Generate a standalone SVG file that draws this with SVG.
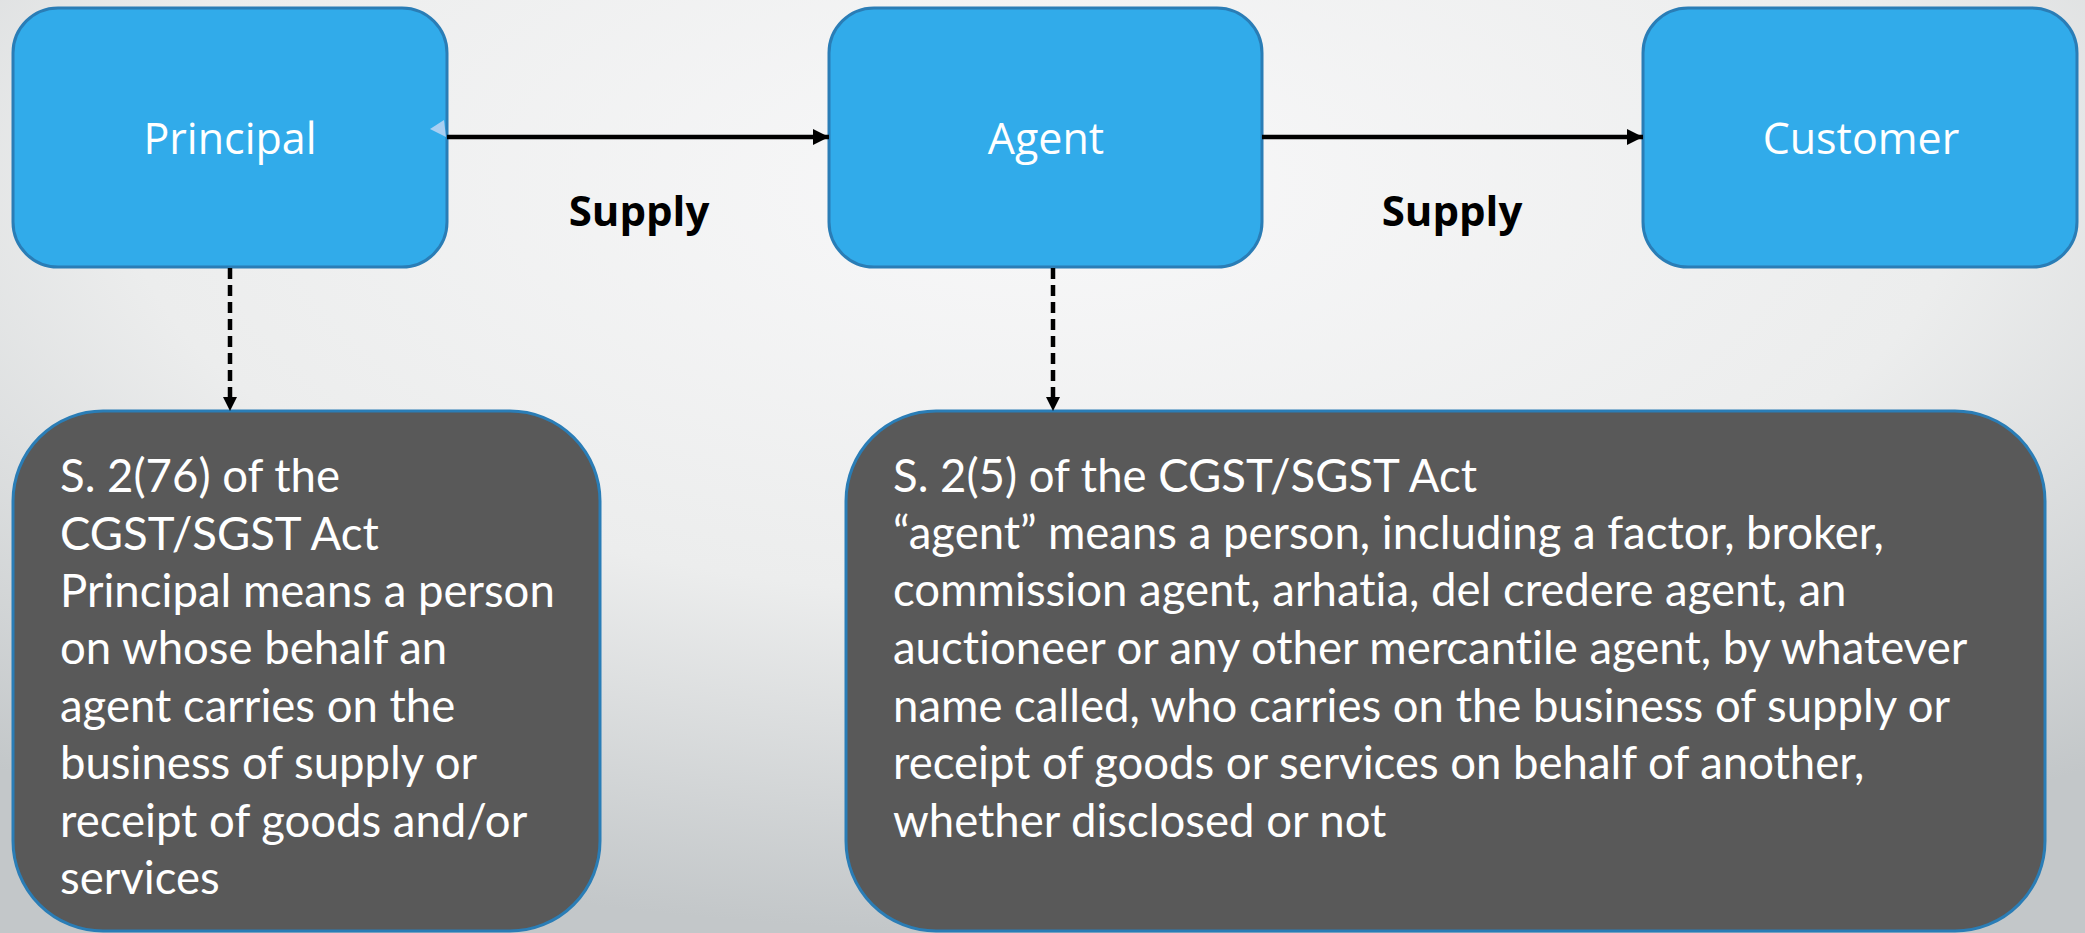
<svg xmlns="http://www.w3.org/2000/svg" width="2085" height="933" viewBox="0 0 2085 933">
  <defs>
    <radialGradient id="bg" cx="50%" cy="20%" r="80%" fx="50%" fy="20%">
      <stop offset="0" stop-color="#f8f8f9"/>
      <stop offset="0.55" stop-color="#eceded"/>
      <stop offset="1" stop-color="#c3c7c9"/>
    </radialGradient>
    <marker id="arrow" viewBox="0 0 16 16" refX="16" refY="8" markerWidth="16" markerHeight="16" markerUnits="userSpaceOnUse" orient="auto">
      <path d="M0,0 L16,8 L0,16 Z" fill="#000"/>
    </marker>
  </defs>
  <style>
    .party { fill: #31abea; stroke: #2a7db6; stroke-width: 3; }
    .party-label { font-family: "Open Sans", "Noto Sans", sans-serif; font-size: 43px; fill: #ffffff; text-anchor: middle; }
    .definition { fill: #595959; stroke: #2a7db6; stroke-width: 3; }
    .definition-text { font-family: Lato, "Open Sans", sans-serif; font-size: 45.5px; fill: #ffffff; font-variant-ligatures: none; font-feature-settings: "liga" 0, "clig" 0; }
    .flow { stroke: #000; stroke-width: 4.5; fill: none; }
    .ref { stroke: #000; stroke-width: 4.5; fill: none; stroke-dasharray: 11 6; }
    .flow-label { font-family: "Open Sans", "Noto Sans", sans-serif; font-size: 42px; font-weight: 700; fill: #000; text-anchor: middle; }
  </style>

  <rect x="0" y="0" width="2085" height="933" fill="url(#bg)"/>

  <!-- parties in the supply chain -->
  <g id="principal">
    <rect class="party" x="13" y="8" width="434" height="259" rx="45" ry="45"/>
    <text class="party-label" x="230" y="154">Principal</text>
  </g>
  <g id="agent">
    <rect class="party" x="829" y="8" width="433" height="259" rx="45" ry="45"/>
    <text class="party-label" x="1046" y="154">Agent</text>
  </g>
  <g id="customer">
    <rect class="party" x="1643" y="8" width="434" height="259" rx="45" ry="45"/>
    <text class="party-label" x="1861" y="154">Customer</text>
  </g>

  <!-- statutory definitions -->
  <g id="principal-definition">
    <rect class="definition" x="13" y="411" width="587" height="520" rx="90" ry="90"/>
    <text class="definition-text">
      <tspan x="60" y="492">S. 2(76) of the</tspan>
      <tspan x="60" y="549.5">CGST/SGST Act</tspan>
      <tspan x="60" y="607">Principal means a person</tspan>
      <tspan x="60" y="664">on whose behalf an</tspan>
      <tspan x="60" y="721.5">agent carries on the</tspan>
      <tspan x="60" y="779">business of supply or</tspan>
      <tspan x="60" y="836.5">receipt of goods and/or</tspan>
      <tspan x="60" y="893.5">services</tspan>
    </text>
  </g>
  <g id="agent-definition">
    <rect class="definition" x="846" y="411" width="1199" height="520" rx="90" ry="90"/>
    <text class="definition-text">
      <tspan x="893" y="492">S. 2(5) of the CGST/SGST Act</tspan>
      <tspan x="893" y="549">“agent” means a person, including a factor, broker,</tspan>
      <tspan x="893" y="606">commission agent, arhatia, del credere agent, an</tspan>
      <tspan x="893" y="664">auctioneer or any other mercantile agent, by whatever</tspan>
      <tspan x="893" y="721.5">name called, who carries on the business of supply or</tspan>
      <tspan x="893" y="779">receipt of goods or services on behalf of another,</tspan>
      <tspan x="893" y="837">whether disclosed or not</tspan>
    </text>
  </g>

  <!-- connectors -->
  <g id="connectors">
    <line class="flow" x1="447" y1="137" x2="829" y2="137" marker-end="url(#arrow)"/>
    <polygon points="430,129 444,120 446,137" fill="#a9cff2"/>
    <line class="flow" x1="1262" y1="137" x2="1643" y2="137" marker-end="url(#arrow)"/>
    <line class="ref" x1="230" y1="268" x2="230" y2="398"/>
    <path d="M223,397 L237,397 L230,411 Z" fill="#000"/>
    <line class="ref" x1="1053" y1="268" x2="1053" y2="398"/>
    <path d="M1046,397 L1060,397 L1053,411 Z" fill="#000"/>
    <text class="flow-label" x="639" y="226">Supply</text>
    <text class="flow-label" x="1452" y="226">Supply</text>
  </g>
</svg>
